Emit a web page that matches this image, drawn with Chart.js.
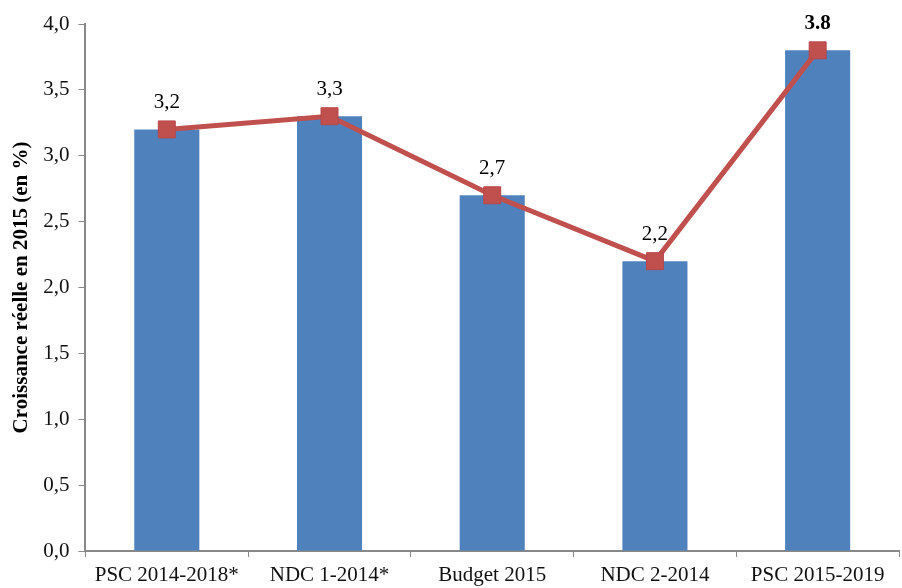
<!DOCTYPE html>
<html>
<head>
<meta charset="utf-8">
<script src="https://cdn.jsdelivr.net/npm/chart.js@4"></script>
<style>
  html, body { margin: 0; padding: 0; background: #fff; overflow: hidden; }
  #wrap { width: 912px; height: 588px; }
</style>
</head>
<body>
<div id="wrap"><canvas id="growthChart" width="912" height="588"></canvas></div>
<script>
const categories = ['PSC 2014-2018*', 'NDC 1-2014*', 'Budget 2015', 'NDC 2-2014', 'PSC 2015-2019'];
const growthValues = [3.2, 3.3, 2.7, 2.2, 3.8];
const pointLabels = ['3,2', '3,3', '2,7', '2,2', '3.8'];
const boldLabels = [false, false, false, false, true];
const yTicks = [0, 0.5, 1, 1.5, 2, 2.5, 3, 3.5, 4];

const serif = '"Liberation Serif", "Times New Roman", serif';

// draws the value above each square marker
const pointLabelPlugin = {
    id: 'pointLabels',
    afterDatasetsDraw(chart) {
        const ctx = chart.ctx;
        const meta = chart.getDatasetMeta(1);
        ctx.save();
        ctx.textAlign = 'center';
        ctx.textBaseline = 'middle';
        ctx.fillStyle = '#000';
        meta.data.forEach((pt, i) => {
            ctx.font = (boldLabels[i] ? 'bold ' : '') + '21px ' + serif;
            ctx.fillText(pointLabels[i], pt.x, pt.y - 27);
        });
        ctx.restore();
    }
};

const ctx = document.getElementById('growthChart').getContext('2d');
new Chart(ctx, {
    data: {
        labels: categories,
        datasets: [{
            type: 'bar',
            data: growthValues,
            backgroundColor: '#4F81BD',
            barPercentage: 0.4,
            categoryPercentage: 1,
            order: 2
        }, {
            type: 'line',
            data: growthValues,
            borderColor: '#C0504D',
            borderWidth: 5,
            pointStyle: 'rect',
            pointRadius: 12,
            pointBackgroundColor: '#C0504D',
            pointBorderColor: '#B8474A',
            pointBorderWidth: 1,
            tension: 0,
            order: 1
        }]
    },
    options: {
        responsive: false,
        animation: false,
        layout: { padding: { top: 24, right: 1, left: 9, bottom: -6 } },
        plugins: {
            legend: { display: false },
            tooltip: { enabled: false }
        },
        scales: {
            x: {
                offset: true,
                grid: {
                    offset: true,
                    drawOnChartArea: false,
                    drawTicks: true,
                    tickLength: 6,
                    color: '#888'
                },
                border: { color: '#888', width: 2 },
                ticks: {
                    color: '#111',
                    font: { family: serif, size: 21, lineHeight: 1 },
                    padding: 8,
                    maxRotation: 0
                }
            },
            y: {
                min: 0,
                max: 4,
                afterBuildTicks(axis) {
                    axis.ticks = yTicks.map(v => ({ value: v }));
                },
                grid: {
                    drawOnChartArea: false,
                    drawTicks: true,
                    tickLength: 7,
                    color: '#888'
                },
                border: { color: '#888', width: 2 },
                ticks: {
                    color: '#111',
                    font: { family: serif, size: 21 },
                    padding: 9,
                    callback: v => v.toFixed(1).replace('.', ',')
                },
                title: {
                    display: true,
                    text: 'Croissance réelle en 2015 (en %)',
                    color: '#000',
                    font: { family: serif, size: 21, weight: 'bold' },
                    padding: { top: 0, bottom: 0 }
                }
            }
        }
    },
    plugins: [pointLabelPlugin]
});
</script>
</body>
</html>
